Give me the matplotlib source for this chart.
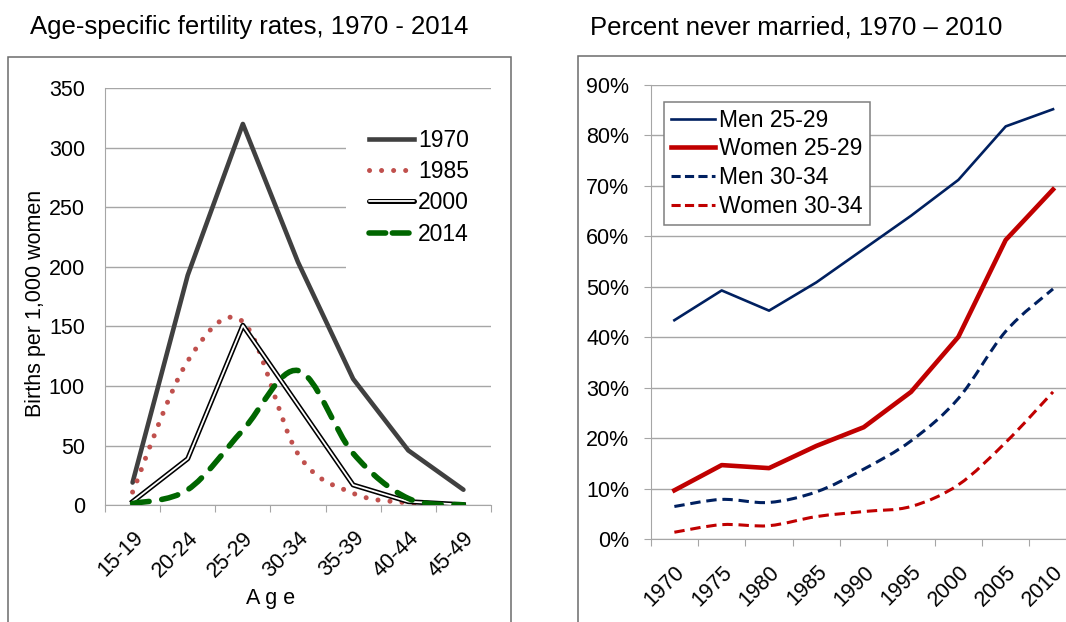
import numpy as np
import matplotlib.pyplot as plt
import matplotlib.patheffects as pe
from matplotlib.path import Path
from matplotlib.patches import PathPatch, Rectangle
from matplotlib.lines import Line2D
from matplotlib.ticker import FuncFormatter

plt.rcParams['font.family'] = ['Liberation Sans', 'DejaVu Sans']

# left panel: births per 1,000 women by age group
ages = ['15-19', '20-24', '25-29', '30-34', '35-39', '40-44', '45-49']
asfr_1970 = [19, 193, 320, 204, 106, 46, 13]
asfr_1985 = [11, 121, 154, 43, 10, 2, 0.3]
asfr_2000 = [3, 39, 151, 84, 17, 3, 0.4]
asfr_2014 = [1.4, 13, 63, 113, 43.5, 5.7, 0.3]

# right panel: percent never married
years = ['1970', '1975', '1980', '1985', '1990', '1995', '2000', '2005', '2010']
men_25_29 = [43.4, 49.3, 45.3, 50.9, 57.5, 64.1, 71.2, 81.8, 85.2]
women_25_29 = [9.7, 14.7, 14.1, 18.5, 22.2, 29.2, 40.1, 59.3, 69.3]
men_30_34 = [6.5, 7.9, 7.3, 9.4, 13.9, 19.5, 27.9, 41.2, 49.6]
women_30_34 = [1.4, 2.9, 2.7, 4.5, 5.5, 6.5, 10.8, 19.2, 29.2]

FS = 15.5
LFS = 16.5
GRID = '#a6a6a6'
W, H = 1066, 622


def smooth_path(x, y):
    # excel style smoothed line (bezier through the data points)
    pts = np.column_stack([x, y]).astype(float)
    ext = np.vstack([pts[0], pts, pts[-1]])
    verts = [pts[0]]
    codes = [Path.MOVETO]
    for i in range(len(pts) - 1):
        p0, p1, p2, p3 = ext[i], ext[i + 1], ext[i + 2], ext[i + 3]
        verts += [p1 + (p2 - p0) / 6, p2 - (p3 - p1) / 6, p2]
        codes += [Path.CURVE4] * 3
    return Path(verts, codes)


def category_axis(ax, labels, pad):
    n = len(labels)
    ax.set_xlim(-0.5, n - 0.5)
    ax.set_xticks(np.arange(n + 1) - 0.5)
    ax.set_xticklabels([])
    ax.set_xticks(np.arange(n), minor=True)
    ax.set_xticklabels(labels, minor=True)
    ax.tick_params(axis='x', which='major', length=5, color=GRID, direction='out')
    ax.tick_params(axis='x', which='minor', length=0, pad=pad, labelsize=FS)
    for t in ax.get_xticklabels(minor=True):
        t.set_rotation(45)
        t.set_ha('right')
        t.set_va('top')
        t.set_rotation_mode('anchor')
    for s in ['top', 'right']:
        ax.spines[s].set_visible(False)
    for s in ['left', 'bottom']:
        ax.spines[s].set_color(GRID)
    ax.grid(axis='y', color=GRID, lw=1)
    ax.set_axisbelow(True)


fig = plt.figure(figsize=(W / 100, H / 100), dpi=100)

# chart area frames
fig.patches.append(Rectangle((7.6 / W, -0.1), (511 - 7.6) / W, 1.1 - 57 / H,
                             transform=fig.transFigure, fill=False,
                             edgecolor='#6b6b6b', lw=1.1, zorder=0))
fig.patches.append(Rectangle((578.3 / W, -0.1), 1.0, 1.1 - 56 / H,
                             transform=fig.transFigure, fill=False,
                             edgecolor='#6b6b6b', lw=1.1, zorder=0))

fig.text(30 / W, 1 - 27 / H, 'Age-specific fertility rates, 1970 - 2014',
         fontsize=18.5, ha='left', va='center')
fig.text(590 / W, 1 - 27 / H, 'Percent never married, 1970 \u2013 2010',
         fontsize=18.5, ha='left', va='center')

# ---- left chart
ax1 = fig.add_axes([105 / W, 1 - 505.2 / H, 386 / W, 417 / H])
x1 = np.arange(len(ages))
category_axis(ax1, ages, 16)
ax1.set_ylim(0, 350)
ax1.set_yticks(range(0, 351, 50))
ax1.tick_params(axis='y', length=0, pad=14.5, labelsize=FS)
ax1.set_ylabel('Births per 1,000 women', fontsize=FS)
ax1.yaxis.set_label_coords(-0.153, 0.485)
ax1.set_xlabel('A g e', fontsize=FS)
ax1.xaxis.set_label_coords((271 - 105) / 386, -0.199)

c1970, c1985, c2014 = '#404040', '#c0504d', '#006600'
ax1.plot(x1, asfr_1970, color=c1970, lw=3.3, solid_capstyle='round', zorder=3)
ax1.add_patch(PathPatch(smooth_path(x1, asfr_1985), fill=False, edgecolor=c1985,
                        lw=3.6, linestyle=(0, (0.01, 2.4)), capstyle='round', zorder=3))
dbl = [pe.Stroke(linewidth=3.6, foreground='black'), pe.Normal()]
ax1.plot(x1, asfr_2000, color='white', lw=1.3, path_effects=dbl, zorder=4)
ax1.add_patch(PathPatch(smooth_path(x1, asfr_2014), fill=False, edgecolor=c2014,
                        lw=4.0, linestyle=(0, (3.0, 2.3)), capstyle='round', zorder=5))

h1 = [Line2D([], [], color=c1970, lw=3.3),
      Line2D([], [], color=c1985, lw=3.6, linestyle=(0, (0.01, 2.4)),
             dash_capstyle='round'),
      Line2D([], [], color='white', lw=1.3, solid_capstyle='round',
             path_effects=[pe.Stroke(linewidth=3.6, foreground='black',
                                     capstyle='round'), pe.Normal()]),
      Line2D([], [], color=c2014, lw=4.0, linestyle=(0, (3.0, 1.2)),
             dash_capstyle='round')]
leg1 = ax1.legend(h1, ['1970', '1985', '2000', '2014'], loc='upper left',
                  bbox_to_anchor=(346 / W, 1 - 106 / H),
                  bbox_transform=fig.transFigure, fontsize=LFS,
                  frameon=True, fancybox=False, framealpha=1,
                  edgecolor='none', facecolor='white', borderpad=1.0,
                  borderaxespad=0, handlelength=1.95, handletextpad=0.2,
                  labelspacing=0.36)
leg1.set_zorder(6)

# ---- right chart
ax2 = fig.add_axes([650.7 / W, 1 - 539.3 / H, 426 / W, 454.3 / H])
x2 = np.arange(len(years))
category_axis(ax2, years, 16)
ax2.set_ylim(0, 90)
ax2.set_yticks(range(0, 91, 10))
ax2.yaxis.set_major_formatter(FuncFormatter(lambda v, p: '%d%%' % v))
ax2.tick_params(axis='y', length=5, color=GRID, pad=10.5, labelsize=FS)

navy, red = '#002060', '#c00000'
ax2.plot(x2, men_25_29, color=navy, lw=1.9, zorder=3)
ax2.plot(x2, women_25_29, color=red, lw=3.3, zorder=3)
ax2.add_patch(PathPatch(smooth_path(x2, men_30_34), fill=False, edgecolor=navy,
                        lw=2.2, linestyle=(0, (3.4, 1.9)), zorder=3))
ax2.add_patch(PathPatch(smooth_path(x2, women_30_34), fill=False, edgecolor=red,
                        lw=2.2, linestyle=(0, (3.4, 1.9)), zorder=3))

h2 = [Line2D([], [], color=navy, lw=1.9),
      Line2D([], [], color=red, lw=3.3),
      Line2D([], [], color=navy, lw=2.2, linestyle=(0, (3.0, 1.4))),
      Line2D([], [], color=red, lw=2.2, linestyle=(0, (3.0, 1.4)))]
leg2 = ax2.legend(h2, ['Men 25-29', 'Women 25-29', 'Men 30-34', 'Women 30-34'],
                  loc='upper left', bbox_to_anchor=(664.3 / W, 1 - 101.7 / H),
                  bbox_transform=fig.transFigure, fontsize=LFS,
                  frameon=True, fancybox=False, framealpha=1,
                  edgecolor='#7f7f7f', facecolor='white', borderpad=0.3,
                  borderaxespad=0, handlelength=1.9, handletextpad=0.2,
                  labelspacing=0.25)
leg2.get_frame().set_linewidth(1.1)
leg2.set_zorder(6)

fig.savefig('out.png', dpi=100)
